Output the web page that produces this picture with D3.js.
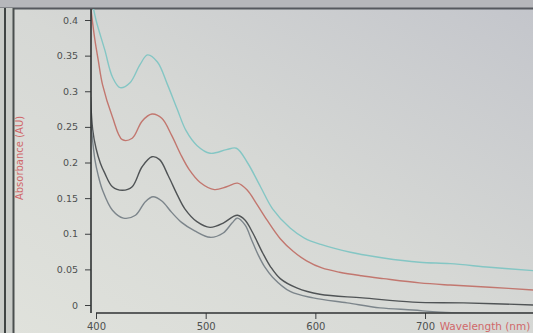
<!DOCTYPE html>
<html><head><meta charset="utf-8">
<script src="https://cdn.jsdelivr.net/npm/d3@7"></script>
<style>body{margin:0;background:#d8dad7;overflow:hidden}svg{display:block}</style>
</head><body><svg id="c" width="533" height="333"></svg>
<script>
// Spectra (wavelength nm, absorbance AU)
const cyanWl  = [396,400,408,415,422,431,440,447,456,465,474,482,492,504,519,528,538,550,561,577,590,605,632,662,695,723,759,800];
const cyanAbs = [0.43,0.40,0.358,0.320,0.305,0.312,0.337,0.351,0.341,0.310,0.275,0.245,0.224,0.213,0.218,0.220,0.200,0.166,0.135,0.108,0.094,0.085,0.074,0.066,0.060,0.058,0.053,0.048];

const redWl  = [395,399,402,406,415,424,433,442,451,460,469,477,485,495,508,519,529,538,546,556,568,580,592,606,622,642,662,695,723,759,800];
const redAbs = [0.42,0.372,0.344,0.309,0.264,0.232,0.234,0.258,0.268,0.262,0.238,0.212,0.190,0.172,0.162,0.166,0.171,0.161,0.143,0.119,0.093,0.075,0.062,0.052,0.046,0.041,0.037,0.031,0.028,0.025,0.021];

const darkWl  = [395,397,400,404,408,415,424,433,442,451,458,466,474,481,492,504,516,525,529,536,543,552,559,568,583,604,643,689,735,800];
const darkAbs = [0.292,0.246,0.220,0.199,0.185,0.166,0.161,0.166,0.194,0.208,0.204,0.181,0.155,0.135,0.117,0.109,0.115,0.124,0.126,0.119,0.101,0.073,0.054,0.037,0.024,0.015,0.010,0.004,0.003,0.000];

const greyWl  = [395,399,402,406,415,425,436,445,452,460,469,478,490,504,516,524,529,536,542,548,554,561,577,598,629,659,689,714,800];
const greyAbs = [0.262,0.204,0.182,0.161,0.133,0.122,0.126,0.145,0.152,0.146,0.130,0.116,0.104,0.095,0.101,0.115,0.122,0.112,0.091,0.070,0.053,0.039,0.019,0.010,0.003,-0.004,-0.007,-0.010,-0.012];

const yTicks = [0,0.05,0.1,0.15,0.2,0.25,0.3,0.35,0.4];
const yTickLabels = ["0","0.05","0.1","0.15","0.2","0.25","0.3","0.35","0.4"];
const xTicks = [400,500,600,700];
const xTickLabels = ["400","500","600","700"];

const series = [
  {wl: cyanWl, abs: cyanAbs, color: "#84c6c4"},
  {wl: redWl,  abs: redAbs,  color: "#c2776f"},
  {wl: darkWl, abs: darkAbs, color: "#505456"},
  {wl: greyWl, abs: greyAbs, color: "#7c858b"}
];

const svg = d3.select("#c");
const defs = svg.append("defs");
const g1 = defs.append("linearGradient").attr("id","bg").attr("x1","0").attr("y1","1").attr("x2","1").attr("y2","0");
g1.append("stop").attr("offset","0").attr("stop-color","#e0e2dc");
g1.append("stop").attr("offset","0.5").attr("stop-color","#d6d8d5");
g1.append("stop").attr("offset","1").attr("stop-color","#c3c5cb");
svg.append("rect").attr("width",533).attr("height",333).attr("fill","url(#bg)");

// screen frame
svg.append("rect").attr("x",0).attr("y",0).attr("width",533).attr("height",8).attr("fill","#b6b7bb");
svg.append("line").attr("x1",0).attr("x2",533).attr("y1",8.5).attr("y2",8.5).attr("stroke","#55585e").attr("stroke-width",2);
svg.append("rect").attr("x",0).attr("y",8).attr("width",14).attr("height",325).attr("fill","#c9ccc8");
svg.append("line").attr("x1",5).attr("x2",5).attr("y1",8).attr("y2",333).attr("stroke","#3f4443").attr("stroke-width",2);
svg.append("line").attr("x1",13.5).attr("x2",13.5).attr("y1",8).attr("y2",333).attr("stroke","#4a4f4e").attr("stroke-width",2);

const x = d3.scaleLinear().domain([400,800]).range([96,534.7]);
const y = d3.scaleLinear().domain([0,0.4]).range([305,20]);

defs.append("clipPath").attr("id","clip").append("rect").attr("x",91).attr("y",9).attr("width",442).attr("height",303.5);

const line = d3.line().x(d => x(d[0])).y(d => y(d[1])).curve(d3.curveCatmullRom.alpha(0.5));
const plot = svg.append("g").attr("clip-path","url(#clip)");
series.forEach(s => {
  plot.append("path").datum(s.wl.map((w,i) => [w, s.abs[i]]))
    .attr("d", line).attr("fill","none").attr("stroke", s.color).attr("stroke-width",1.4);
});

// Y axis
const yAxisG = svg.append("g").attr("transform","translate(91,0)");
yAxisG.call(d3.axisLeft(y).tickValues(d3.range(-1,42).map(i => i/100)).tickSize(3).tickFormat(""));
yAxisG.call(d3.axisLeft(y).tickValues(yTicks).tickSize(6).tickPadding(7).tickFormat((d,i) => yTickLabels[i]));
yAxisG.selectAll(".domain").remove();
yAxisG.selectAll("line").attr("stroke","#3c3f40");
yAxisG.selectAll("text").attr("font-family","DejaVu Sans").attr("font-size",9.5).attr("fill","#4d5050");
svg.append("line").attr("x1",91).attr("x2",91).attr("y1",9).attr("y2",313).attr("stroke","#2f3233").attr("stroke-width",1.6);

// X axis
const xAxisG = svg.append("g").attr("transform","translate(0,313)");
xAxisG.call(d3.axisBottom(x).tickValues(d3.range(400,801,20)).tickSize(3).tickFormat(""));
xAxisG.call(d3.axisBottom(x).tickValues(xTicks).tickSize(6).tickPadding(4).tickFormat((d,i) => xTickLabels[i]));
xAxisG.selectAll(".domain").remove();
xAxisG.selectAll("line").attr("stroke","#3c3f40");
xAxisG.selectAll("text").attr("font-family","DejaVu Sans").attr("font-size",10).attr("fill","#4d5050");
svg.append("line").attr("x1",96).attr("x2",533).attr("y1",313).attr("y2",313).attr("stroke","#2f3233").attr("stroke-width",1.6);

// axis titles
svg.append("text").attr("x",485).attr("y",330).attr("text-anchor","middle")
  .attr("font-family","DejaVu Sans").attr("font-size",10.5).attr("fill","#d0686a").text("Wavelength (nm)");
svg.append("text").attr("transform","translate(23,158) rotate(-90)").attr("text-anchor","middle")
  .attr("font-family","DejaVu Sans").attr("font-size",10).attr("fill","#d0686a").text("Absorbance (AU)");
</script></body></html>
